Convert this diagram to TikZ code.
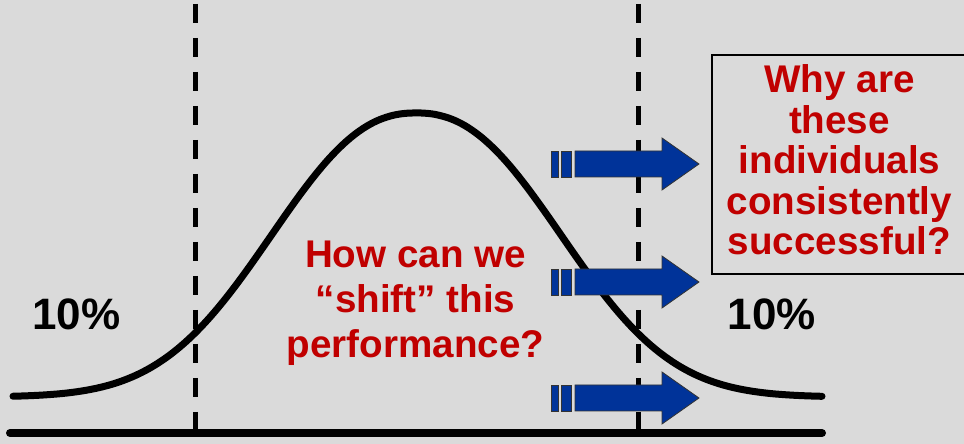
\documentclass[tikz,border=0pt]{standalone}
\usepackage{fontspec}
\setmainfont{Liberation Sans}
\definecolor{bggray}{RGB}{218,218,218}
\definecolor{qred}{RGB}{192,0,0}
\definecolor{arrowblue}{RGB}{0,51,153}

\begin{document}
\begin{tikzpicture}[x=1pt,y=1pt,
    question/.style={text=qred,align=center,font=\fontsize{38.6}{#1}\selectfont\bfseries},
    pct/.style={anchor=base,font=\fontsize{44}{44}\selectfont\bfseries},
    cut/.style={line width=5pt,dash pattern=on 19pt off 15pt},
    shiftarrow/.style={fill=arrowblue,draw=black!80,line width=0.8pt}]
  \fill[bggray] (0,0) rectangle (964,444);
  \useasboundingbox (0,0) rectangle (964,444);
  % axis and the two 10% cut-offs
  \draw[line width=8pt,line cap=round] (10,11) -- (822,11);
  \draw[cut] (195,440) -- (195,11);
  \draw[cut] (638,440) -- (638,11);
  % bell curve, a bit flatter on top than a normal
  \draw[line width=7pt,line cap=round,domain=13:822,samples=120,smooth]
    plot (\x,{47+284*exp(-(abs(\x-416.3)/186)^2.3)});
  % arrows pushing the curve to the right
  \foreach \y in {280,162,46} {
    \draw[shiftarrow] (575,\y-13) -- (662,\y-13) -- (662,\y-26) -- (699,\y)
      -- (662,\y+26) -- (662,\y+13) -- (575,\y+13) -- cycle;
    \draw[shiftarrow] (551,\y-13) rectangle (558,\y+13);
    \draw[shiftarrow] (561,\y-13) rectangle (571,\y+13);
  }
  \node[pct] (low) at (76.5,114) {10\%};
  \node[pct] (high) at (772,114) {10\%};
  \node[question=45] (shift) at (415.5,141) {How can we\\“shift” this\\performance?};
  \draw[line width=1.5pt] (712,389) rectangle (968,170);
  \node[question=40.5] (why) at (839.5,284) {Why are\\these\\individuals\\consistently\\successful?};
\end{tikzpicture}
\end{document}
